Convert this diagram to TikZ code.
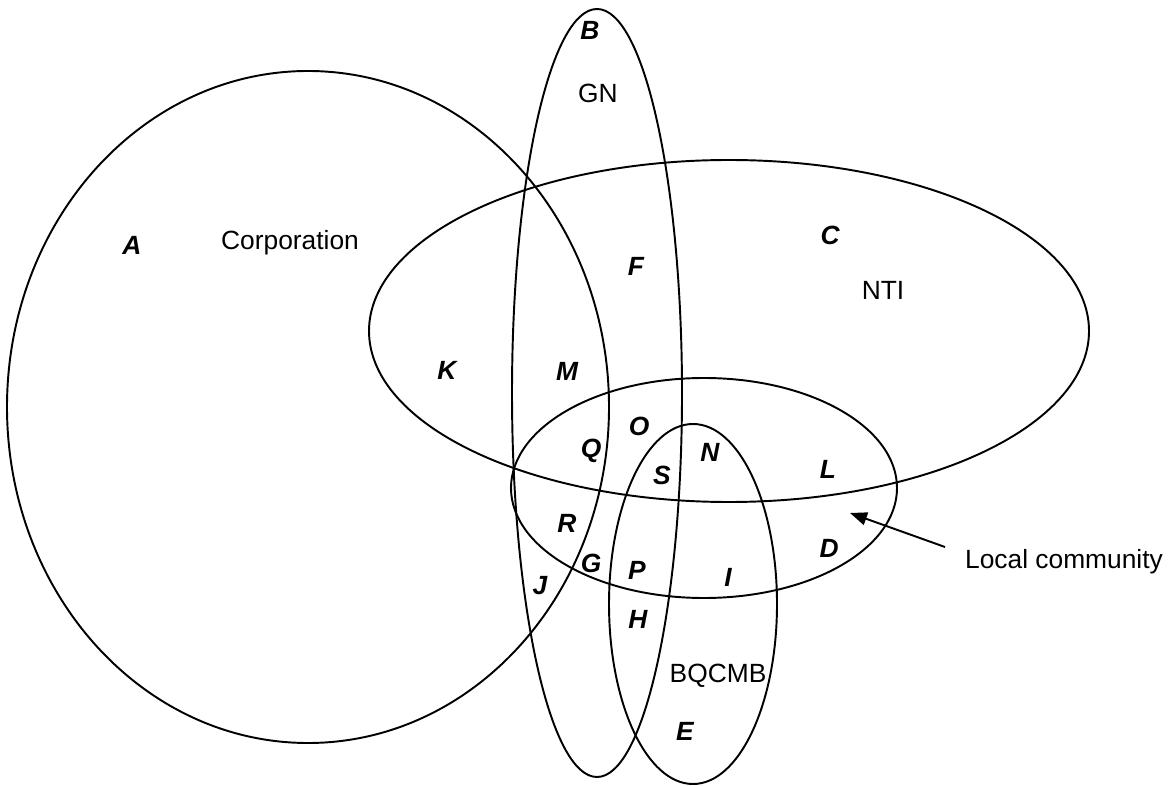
\documentclass[tikz,border=0pt]{standalone}
\usepackage{fontspec}
\setmainfont{Liberation Sans}
\usetikzlibrary{arrows.meta}
\begin{document}
\begin{tikzpicture}[x=0.02cm,y=-0.02cm,line width=1.1pt,
    region/.style = {font=\fontsize{15}{18}\selectfont\bfseries\itshape},
    setname/.style = {font=\fontsize{15}{18}\selectfont},
    arrow/.style = {line width=1.1pt,-{Triangle[length=0.34cm,width=0.26cm]}}]
                        \useasboundingbox (0,0) rectangle (1168,786);
                        \draw (308,407) ellipse [x radius=301, y radius=336];
                        \draw (597,393) ellipse [x radius=85, y radius=384];
                        \draw (729,331) ellipse [x radius=360, y radius=171];
                        \draw (704,488) ellipse [x radius=193, y radius=110];
                        \draw (693,604) ellipse [x radius=84, y radius=180];

                        \node[setname] (corp) at (290,243) {Corporation};
                        \node[setname] (gn) at (598,93) {GN};
                        \node[setname] (nti) at (883,290) {NTI};
                        \node[setname] (bqcmb) at (718,676) {BQCMB};
                        \node[setname] (local) at (1064,562) {Local community};

                        \node[region] (a) at (132,245) {A};
                        \node[region] (b) at (590,30) {B};
                        \node[region] (c) at (830,235) {C};
                        \node[region] (f) at (636,266) {F};
                        \node[region] (k) at (447,370) {K};
                        \node[region] (m) at (567,371) {M};
                        \node[region] (o) at (639,426) {O};
                        \node[region] (q) at (591,451) {Q};
                        \node[region] (s) at (662,475) {S};
                        \node[region] (n) at (710,452) {N};
                        \node[region] (l) at (828,469) {L};
                        \node[region] (r) at (567,523) {R};
                        \node[region] (d) at (829,548) {D};
                        \node[region] (g) at (591,563) {G};
                        \node[region] (p) at (637,570) {P};
                        \node[region] (i) at (728,577) {I};
                        \node[region] (j) at (540,586) {J};
                        \node[region] (h) at (638,619) {H};
                        \node[region] (e) at (685,731) {E};

                        \coordinate (tail) at (945,547);
                        \coordinate (tip) at (850,513);
                        \draw[arrow] (tail) -- (tip);
                    \end{tikzpicture}
\end{document}
